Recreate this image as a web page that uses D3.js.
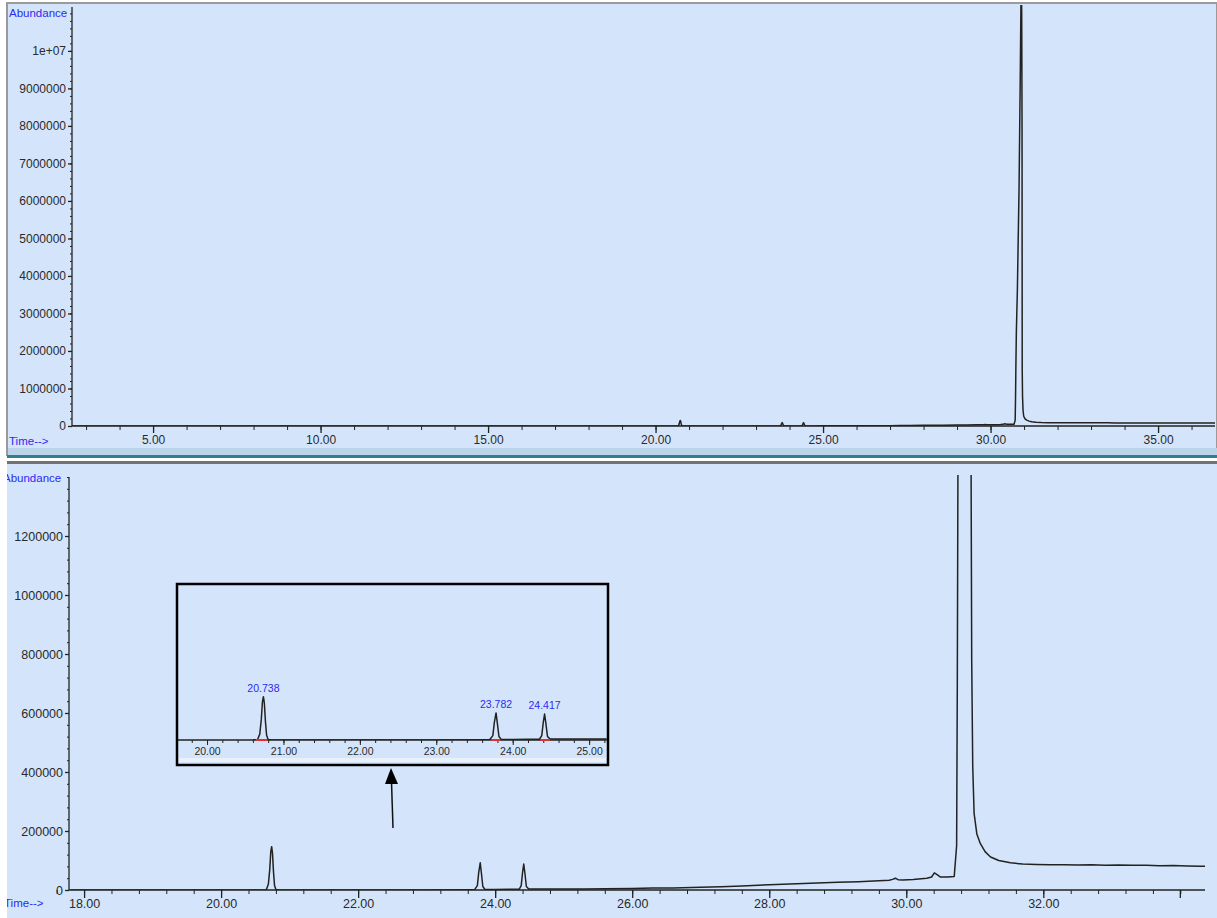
<!DOCTYPE html>
<html>
<head>
<meta charset="utf-8">
<script src="https://cdn.jsdelivr.net/npm/d3@7"></script>
<style>
  body { margin: 0; background: #fff; }
  svg { display: block; font-family: "Liberation Sans", Arial, sans-serif; }
  .tick text { fill: #2a2a2a; }
</style>
</head>
<body>
<svg id="chart" width="1217" height="918"></svg>
<script>
// retention time (min) and abundance
const times = [
  2.58, 10.0, 17.8, 20.60, 20.66, 20.69, 20.71, 20.725, 20.738, 20.75, 20.765, 20.78, 20.80, 20.85,
  23.0, 23.6, 23.70, 23.74, 23.76, 23.782, 23.80, 23.82, 23.85, 24.0, 24.2, 24.35, 24.38, 24.40,
  24.417, 24.435, 24.455, 24.49, 24.8, 25.0, 25.3, 25.6, 26.0, 26.3, 26.6, 27.0, 27.3, 27.6, 28.0,
  28.3, 28.6, 29.0, 29.3, 29.6, 29.75, 29.80, 29.84, 29.88, 29.95, 30.1, 30.3, 30.37, 30.41, 30.45,
  30.5, 30.6, 30.70, 30.735, 30.745, 30.755, 30.77, 30.80, 30.85, 30.89, 30.915, 30.93, 30.94,
  30.945, 30.955, 30.97, 30.99, 31.03, 31.08, 31.15, 31.23, 31.35, 31.52, 31.7, 31.9, 32.1, 32.3,
  32.5, 32.7, 32.9, 33.1, 33.3, 33.5, 33.7, 33.9, 34.1, 34.3, 34.6, 34.9, 35.2, 35.5, 35.8, 36.1,
  36.4, 36.7
];
const abundance = [
  0, 0, 0, 0, 1000, 20000, 70000, 130000, 147000, 125000, 60000, 15000, 2000, 0,
  0, 1000, 1500, 15000, 60000, 92000, 55000, 12000, 2000, 2000, 2200, 2500, 15000, 60000,
  88000, 55000, 12000, 3000, 3200, 3500, 3800, 4500, 5000, 6500, 7000, 9000, 11000, 13500, 18000,
  20000, 22500, 26000, 28000, 31000, 33000, 36000, 40000, 35000, 34000, 36000, 40000, 44000, 58000, 52000,
  44000, 44000, 46000, 150000, 700000, 1500000, 2500000, 3600000, 6300000, 9600000, 12000000, 11000000, 8000000,
  1500000, 780000, 420000, 260000, 190000, 158000, 130000, 112000, 100000, 92000, 88000, 86500, 85500, 86000,
  84500, 85500, 84000, 84500, 83500, 84000, 82500, 83000, 81500, 80500, 79000, 80500, 79000, 80000, 78500, 80000,
  79500, 79000
];

// labelled peaks in the inset
const peakLabels = ["20.738", "23.782", "24.417"];
const peakTimes = [20.738, 23.782, 24.417];
const peakStart = [20.64, 23.72, 24.36];
const peakEnd = [20.79, 23.84, 24.49];

// axis ticks
const topXTicks = [5, 10, 15, 20, 25, 30, 35];
const topYTicks = [0, 1e6, 2e6, 3e6, 4e6, 5e6, 6e6, 7e6, 8e6, 9e6, 1e7];
const botXTicks = [18, 20, 22, 24, 26, 28, 30, 32];
const botYTicks = [0, 200000, 400000, 600000, 800000, 1000000, 1200000];
const insetXTicks = [20, 21, 22, 23, 24, 25];

const trace = times.map((t, i) => ({ t, v: abundance[i] }));

const bg = "#d4e5fb";
const ink = "#222";
const blue = "#2b2bf0";

const svg = d3.select("#chart");

// ---------- panel frames ----------
svg.append("rect").attr("x", 7).attr("y", 3).attr("width", 1210).attr("height", 452)
  .attr("fill", bg).attr("stroke", "#9a9a9a").attr("stroke-width", 2);
svg.append("rect").attr("x", 8).attr("y", 448).attr("width", 1209).attr("height", 7).attr("fill", "#bcd3ec");
svg.append("rect").attr("x", 7).attr("y", 455).attr("width", 1210).attr("height", 3).attr("fill", "#2f7f8f");
svg.append("rect").attr("x", 7).attr("y", 462).attr("width", 1210).attr("height", 456).attr("fill", bg);
svg.append("rect").attr("x", 7).attr("y", 461).attr("width", 1210).attr("height", 3).attr("fill", "#737373");

function range(a, b, step) {
  return d3.range(Math.round(a / step), Math.floor(b / step + 1e-9) + 1).map((k) => +(k * step).toFixed(4));
}

function drawPanel(opts) {
  const g = svg.append("g");
  const x = d3.scaleLinear().domain(opts.xDomain).range(opts.xRange);
  const y = d3.scaleLinear().domain(opts.yDomain).range(opts.yRange);

  const clipId = "clip" + opts.id;
  svg.append("clipPath").attr("id", clipId).append("rect")
    .attr("x", opts.xRange[0]).attr("y", opts.yRange[1] - 2)
    .attr("width", opts.xRange[1] - opts.xRange[0]).attr("height", opts.yRange[0] - opts.yRange[1] + 2);

  const line = d3.line().x((d) => x(d.t)).y((d) => y(d.v));
  g.append("path")
    .datum(trace.filter((d) => d.t >= opts.xDomain[0] - 0.5 && d.t <= opts.xDomain[1] + 0.5))
    .attr("clip-path", `url(#${clipId})`)
    .attr("fill", "none").attr("stroke", ink).attr("stroke-width", 1.5)
    .attr("stroke-linejoin", "round")
    .attr("d", line);

  // minor ticks
  g.append("g").attr("transform", `translate(0,${opts.yRange[0]})`)
    .call(d3.axisBottom(x).tickValues(range(opts.xDomain[0], opts.xDomain[1], opts.xMinor))
      .tickSize(opts.minorLen).tickFormat("").tickSizeOuter(0))
    .call((a) => a.select(".domain").remove())
    .selectAll("line").attr("stroke", ink);
  g.append("g").attr("transform", `translate(${opts.xRange[0]},0)`)
    .call(d3.axisLeft(y).tickValues(range(0, opts.yDomain[1], opts.yMinor))
      .tickSize(2).tickFormat("").tickSizeOuter(0))
    .call((a) => a.select(".domain").remove())
    .selectAll("line").attr("stroke", ink);

  // major axes
  const ax = g.append("g").attr("transform", `translate(0,${opts.yRange[0]})`)
    .call(d3.axisBottom(x).tickValues(opts.xTicks).tickSize(opts.majorLen)
      .tickPadding(opts.xPad).tickSizeOuter(0).tickFormat(d3.format(".2f")));
  ax.select(".domain").attr("d", `M${opts.xRange[0]},0H${opts.xRange[1]}`).attr("stroke", ink).attr("stroke-width", 1.3);
  ax.selectAll("line").attr("stroke", ink).attr("stroke-width", 1.3);
  ax.selectAll("text").attr("font-size", opts.font).attr("font-family", "Liberation Sans, Arial, sans-serif");

  if (opts.yTicks) {
    const ay = g.append("g").attr("transform", `translate(${opts.xRange[0]},0)`)
      .call(d3.axisLeft(y).tickValues(opts.yTicks).tickSize(4).tickPadding(2).tickSizeOuter(0)
        .tickFormat((d) => (d >= 1e7 ? "1e+07" : d3.format("d")(d))));
    ay.select(".domain").attr("d", `M0,${opts.yRange[0]}V${opts.yRange[1]}`).attr("stroke", ink).attr("stroke-width", 1.3);
    ay.selectAll("line").attr("stroke", ink).attr("stroke-width", 1.3);
    ay.selectAll("text").attr("font-size", opts.font).attr("font-family", "Liberation Sans, Arial, sans-serif");
  }
  return { x, y, g };
}

// ---------- top panel: whole run ----------
drawPanel({
  id: "top", xDomain: [2.58, 36.7], xRange: [72, 1215], yDomain: [0, 1.117e7], yRange: [426, 7],
  xTicks: topXTicks, yTicks: topYTicks, xMinor: 1, yMinor: 200000, majorLen: 7, minorLen: 4, xPad: 2, font: 12
});
svg.append("text").attr("x", 9).attr("y", 17).attr("fill", blue).attr("font-size", 11.5).text("Abundance");
svg.append("text").attr("x", 9).attr("y", 445).attr("fill", blue).attr("font-size", 11.5).text("Time-->");

// ---------- bottom panel: expanded ----------
const bot = drawPanel({
  id: "bot", xDomain: [17.78, 34.36], xRange: [69, 1205], yDomain: [0, 1.4e6], yRange: [890, 477],
  xTicks: botXTicks, yTicks: botYTicks, xMinor: 0.4, yMinor: 40000, majorLen: 8, minorLen: 4, xPad: 1, font: 12.5
});
// unlabelled major tick at 34.00
bot.g.append("line").attr("x1", bot.x(34)).attr("x2", bot.x(34)).attr("y1", 890).attr("y2", 898)
  .attr("stroke", ink).attr("stroke-width", 1.3);
svg.append("clipPath").attr("id", "botText").append("rect").attr("x", 7).attr("y", 462).attr("width", 1210).attr("height", 456);
svg.append("text").attr("x", 3).attr("y", 482).attr("fill", blue).attr("font-size", 11.5)
  .attr("clip-path", "url(#botText)").text("Abundance");
svg.append("text").attr("x", 4).attr("y", 907).attr("fill", blue).attr("font-size", 11.5)
  .attr("clip-path", "url(#botText)").text("Time-->");

// ---------- inset ----------
svg.append("rect").attr("x", 178).attr("y", 585).attr("width", 429).attr("height", 179).attr("fill", bg);
svg.append("rect").attr("x", 179).attr("y", 758).attr("width", 427).attr("height", 4).attr("fill", "#e9f0f8");
const ins = drawPanel({
  id: "ins", xDomain: [19.62, 25.23], xRange: [178, 606.7], yDomain: [0, 520000], yRange: [740, 587],
  xTicks: insetXTicks, yTicks: null, xMinor: 0.2, yMinor: 1e9, majorLen: 5, minorLen: 3, xPad: 3, font: 10.5
});
ins.g.selectAll(".tick line").attr("stroke-width", 1);

// integration marks
ins.g.selectAll("line.mark").data(peakTimes).join("line").attr("class", "mark")
  .attr("x1", (d, i) => ins.x(peakStart[i])).attr("x2", (d, i) => ins.x(peakEnd[i]))
  .attr("y1", 740).attr("y2", 740).attr("stroke", "#e03030").attr("stroke-width", 2);
ins.g.selectAll("text.peak").data(peakTimes).join("text").attr("class", "peak")
  .attr("x", (d) => ins.x(d))
  .attr("y", (d) => ins.y(abundance[times.indexOf(d)]) - 5)
  .attr("text-anchor", "middle").attr("fill", blue).attr("font-size", 10.5)
  .text((d, i) => peakLabels[i]);

svg.append("rect").attr("x", 177).attr("y", 584).attr("width", 431).attr("height", 181)
  .attr("fill", "none").attr("stroke", "#000").attr("stroke-width", 2.5);

// arrow pointing at inset
svg.append("line").attr("x1", 393).attr("y1", 828).attr("x2", 391.5).attr("y2", 782)
  .attr("stroke", "#111").attr("stroke-width", 1.5);
svg.append("path").attr("d", "M391,768L385,784L398,784Z").attr("fill", "#000");
</script>
</body>
</html>
